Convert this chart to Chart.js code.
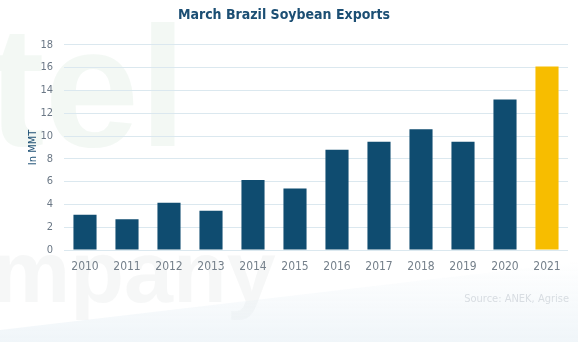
<!DOCTYPE html>
<html>
<head>
<meta charset="utf-8">
<script src="https://cdn.jsdelivr.net/npm/chart.js@4"></script>
<style>
  html, body { margin: 0; padding: 0; background: #ffffff; }
  #wrap { width: 578px; height: 342px; position: relative; }
</style>
</head>
<body>
<div id="wrap"><canvas id="grafico" width="578" height="342"></canvas></div>
<script>
const anios = ['2010', '2011', '2012', '2013', '2014', '2015', '2016', '2017', '2018', '2019', '2020', '2021'];
const exportaciones = [3.1, 2.7, 4.15, 3.45, 6.15, 5.4, 8.8, 9.5, 10.6, 9.5, 13.2, 16.1];
const colores = ['#0f4c70', '#0f4c70', '#0f4c70', '#0f4c70', '#0f4c70', '#0f4c70',
                 '#0f4c70', '#0f4c70', '#0f4c70', '#0f4c70', '#0f4c70', '#f7bd00'];
const titulo = 'March Brazil Soybean Exports';
const tituloEje = 'In MMT';
const fuente = 'Source: ANEK, Agrise';

const narrow = '"Liberation Sans Narrow", "DejaVu Sans Condensed", "Liberation Sans", sans-serif';

// marca de agua tenue detras del grafico y nota de fuente
const fondo = {
    id: 'fondo',
    beforeDraw(chart) {
        const c = chart.ctx;
        c.save();
        c.fillStyle = 'rgba(214, 232, 218, 0.3)';
        c.font = 'bold 170px "Liberation Sans", sans-serif';
        c.textBaseline = 'alphabetic';
        c.fillText('tel', -12, 146);
        c.fillStyle = 'rgba(226, 228, 230, 0.3)';
        c.font = 'bold 88px "Liberation Sans", sans-serif';
        c.fillText('mpany', -8, 302);
        // franja clara inferior
        const g = c.createLinearGradient(0, 342, 0, 260);
        g.addColorStop(0, 'rgba(230, 239, 245, 0.6)');
        g.addColorStop(1, 'rgba(230, 239, 245, 0)');
        c.fillStyle = g;
        c.beginPath();
        c.moveTo(0, 330);
        c.lineTo(578, 262);
        c.lineTo(578, 342);
        c.lineTo(0, 342);
        c.closePath();
        c.fill();
        c.restore();
    },
    afterDraw(chart) {
        const c = chart.ctx;
        c.save();
        c.fillStyle = '#d8dde2';
        c.font = '11px ' + narrow;
        c.textAlign = 'right';
        c.textBaseline = 'middle';
        c.fillText(fuente, 569, 299);
        c.restore();
    }
};

const ctx = document.getElementById('grafico').getContext('2d');
const chart = new Chart(ctx, {
    type: 'bar',
    data: {
        labels: anios,
        datasets: [{
            data: exportaciones,
            backgroundColor: colores,
            categoryPercentage: 1,
            barPercentage: 0.55
        }]
    },
    plugins: [fondo],
    options: {
        responsive: false,
        animation: false,
        layout: { padding: { left: 0, right: 10, top: 0, bottom: 0 } },
        plugins: {
            legend: { display: false },
            tooltip: { enabled: false },
            title: {
                display: true,
                text: titulo,
                color: '#1c4f74',
                font: { family: narrow, size: 14, weight: 'bold' },
                padding: { top: 7, bottom: 21 }
            }
        },
        scales: {
            x: {
                grid: { display: false, drawTicks: false },
                border: { display: false },
                ticks: {
                    color: '#75808b',
                    font: { family: narrow, size: 12 },
                    padding: 10,
                    maxRotation: 0
                },
                afterFit(scale) { scale.height = 92; }
            },
            y: {
                min: 0,
                max: 18,
                ticks: {
                    stepSize: 2,
                    color: '#6b7886',
                    font: { family: narrow, size: 11 },
                    padding: 11
                },
                grid: { color: '#dbe8ef', drawTicks: false },
                border: { display: false },
                title: {
                    display: true,
                    text: tituloEje,
                    color: '#1c4f74',
                    font: { family: narrow, size: 11 },
                    padding: { top: 27, bottom: 0 }
                },
                afterFit(scale) { scale.width = 64; }
            }
        }
    }
});
</script>
</body>
</html>
